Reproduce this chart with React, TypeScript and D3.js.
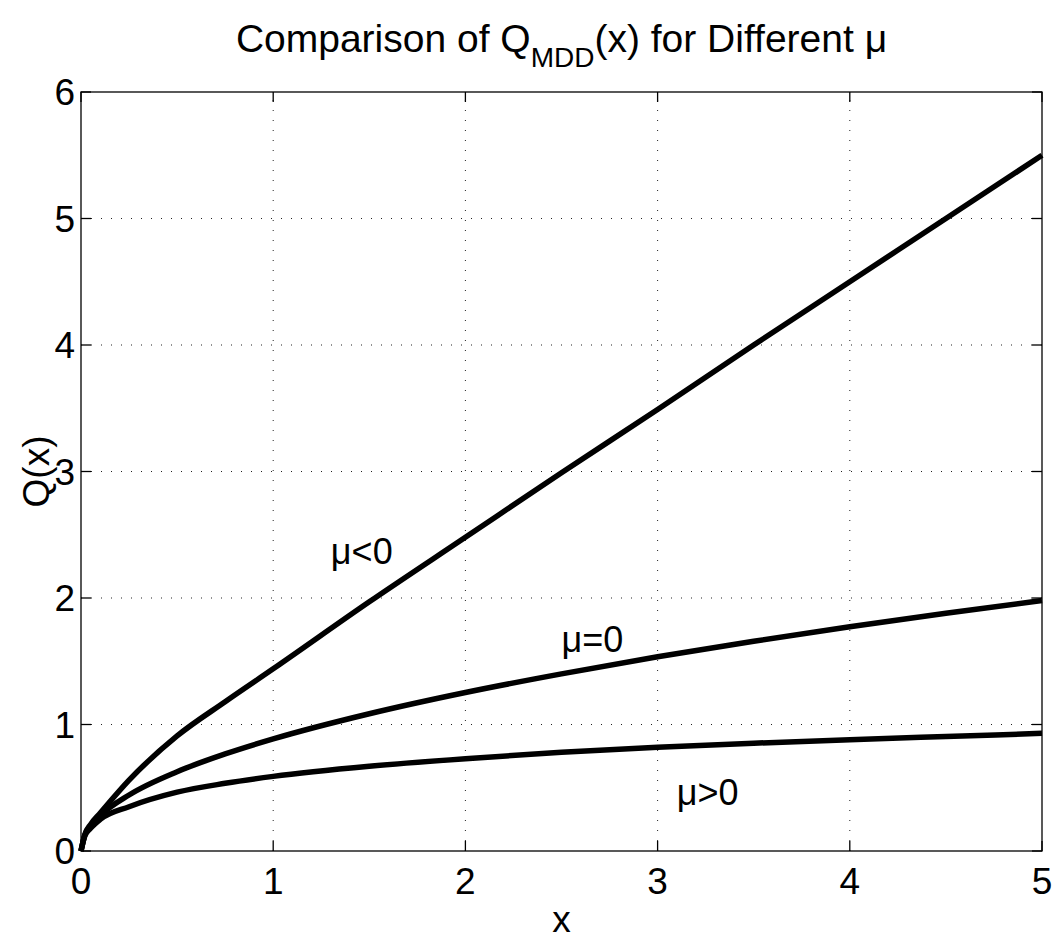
import * as d3 from "d3"
import React, { useRef, useEffect } from "react"

// sample points along x
const xs = [0, 0.02, 0.05, 0.1, 0.25, 0.5, 0.75, 1, 1.5, 2, 2.5, 3, 3.5, 4, 4.5, 5]

// Q(x) for mu < 0
const qNeg = [0, 0.13, 0.21, 0.3, 0.56, 0.91, 1.18, 1.44, 1.97, 2.48, 2.99, 3.49, 4.0, 4.5, 5.0, 5.5]
// Q(x) for mu = 0
const qZero = [0, 0.125, 0.198, 0.28, 0.443, 0.627, 0.767, 0.886, 1.085, 1.253, 1.4, 1.535, 1.658, 1.772, 1.88, 1.98]
// Q(x) for mu > 0
const qPos = [0, 0.12, 0.18, 0.25, 0.35, 0.465, 0.535, 0.59, 0.67, 0.73, 0.78, 0.82, 0.852, 0.88, 0.905, 0.93]

const xTicks = [0, 1, 2, 3, 4, 5]
const yTicks = [0, 1, 2, 3, 4, 5, 6]

// text labels placed in data coordinates
const labels = [
    { text: "\u03bc<0", x: 1.3, y: 2.37 },
    { text: "\u03bc=0", x: 2.5, y: 1.67 },
    { text: "\u03bc>0", x: 3.1, y: 0.46 },
]

const W = 1059, H = 939
const margin = { top: 92, right: 17, bottom: 88, left: 81 }
const FONT = "'Liberation Sans', Arial, Helvetica, sans-serif"

function Chart() {
    const ref = useRef()

    useEffect(() => {
        const svg = d3.select(ref.current)
        svg.selectAll("*").remove()

        const x = d3.scaleLinear().domain([0, 5]).range([margin.left, W - margin.right])
        const y = d3.scaleLinear().domain([0, 6]).range([H - margin.bottom, margin.top])

        const x0 = x(0), x1 = x(5), y0 = y(0), y1 = y(6)

        svg.append("rect")
            .attr("x", 0).attr("y", 0).attr("width", W).attr("height", H)
            .attr("fill", "white")

        // dotted grid
        const grid = svg.append("g")
            .attr("stroke", "#222")
            .attr("stroke-width", 1)
            .attr("stroke-dasharray", "1,9")
        grid.selectAll("line.gx")
            .data(xTicks.slice(1, -1))
            .enter().append("line")
            .attr("x1", d => x(d)).attr("x2", d => x(d))
            .attr("y1", y0).attr("y2", y1)
        grid.selectAll("line.gy")
            .data(yTicks.slice(1, -1))
            .enter().append("line")
            .attr("class", "gy")
            .attr("x1", x0).attr("x2", x1)
            .attr("y1", d => y(d)).attr("y2", d => y(d))

        // curves
        const line = d3.line()
            .x((d, i) => x(xs[i]))
            .y(d => y(d))
            .curve(d3.curveMonotoneX)
        const series = [qNeg, qZero, qPos]
        svg.selectAll("path.curve")
            .data(series)
            .enter().append("path")
            .attr("class", "curve")
            .attr("d", d => line(d))
            .attr("fill", "none")
            .attr("stroke", "black")
            .attr("stroke-width", 5.5)
            .attr("stroke-linejoin", "round")

        // axes box
        svg.append("rect")
            .attr("x", x0).attr("y", y1)
            .attr("width", x1 - x0).attr("height", y0 - y1)
            .attr("fill", "none")
            .attr("stroke", "black")
            .attr("stroke-width", 1.3)

        // inward ticks on all sides
        const tl = 10
        const ticks = svg.append("g").attr("stroke", "black").attr("stroke-width", 1.3)
        xTicks.forEach(t => {
            ticks.append("line").attr("x1", x(t)).attr("x2", x(t)).attr("y1", y0).attr("y2", y0 - tl)
            ticks.append("line").attr("x1", x(t)).attr("x2", x(t)).attr("y1", y1).attr("y2", y1 + tl)
        })
        yTicks.forEach(t => {
            ticks.append("line").attr("x1", x0).attr("x2", x0 + tl).attr("y1", y(t)).attr("y2", y(t))
            ticks.append("line").attr("x1", x1).attr("x2", x1 - tl).attr("y1", y(t)).attr("y2", y(t))
        })

        // tick labels
        svg.selectAll("text.xt")
            .data(xTicks)
            .enter().append("text")
            .attr("x", d => x(d))
            .attr("y", y0 + 43)
            .attr("text-anchor", "middle")
            .attr("font-family", FONT)
            .attr("font-size", 37)
            .text(d => d)
        svg.selectAll("text.yt")
            .data(yTicks)
            .enter().append("text")
            .attr("x", x0 - 6)
            .attr("y", d => y(d) + 13)
            .attr("text-anchor", "end")
            .attr("font-family", FONT)
            .attr("font-size", 37)
            .text(d => d)

        // axis labels
        svg.append("text")
            .attr("x", (x0 + x1) / 2)
            .attr("y", 932)
            .attr("text-anchor", "middle")
            .attr("font-family", FONT)
            .attr("font-size", 37)
            .text("x")
        svg.append("text")
            .attr("transform", `translate(49,${(y0 + y1) / 2}) rotate(-90)`)
            .attr("text-anchor", "middle")
            .attr("font-family", FONT)
            .attr("font-size", 37)
            .text("Q(x)")

        // title
        const title = svg.append("text")
            .attr("x", (x0 + x1) / 2)
            .attr("y", 52)
            .attr("text-anchor", "middle")
            .attr("font-family", FONT)
            .attr("font-size", 39)
        title.append("tspan").text("Comparison of Q")
        title.append("tspan").attr("font-size", 28).attr("dy", 15).text("MDD")
        title.append("tspan").attr("dy", -15).text("(x) for Different \u03bc")

        // curve labels
        svg.selectAll("text.lab")
            .data(labels)
            .enter().append("text")
            .attr("x", d => x(d.x))
            .attr("y", d => y(d.y))
            .attr("dy", "0.35em")
            .attr("font-family", FONT)
            .attr("font-size", 36)
            .text(d => d.text)
    }, [])

    return <svg ref={ref} width={W} height={H}></svg>
}

export default function App() {
    return (
        <div style={{ position: "absolute", left: 0, top: 0 }}>
            <Chart />
        </div>
    )
}
